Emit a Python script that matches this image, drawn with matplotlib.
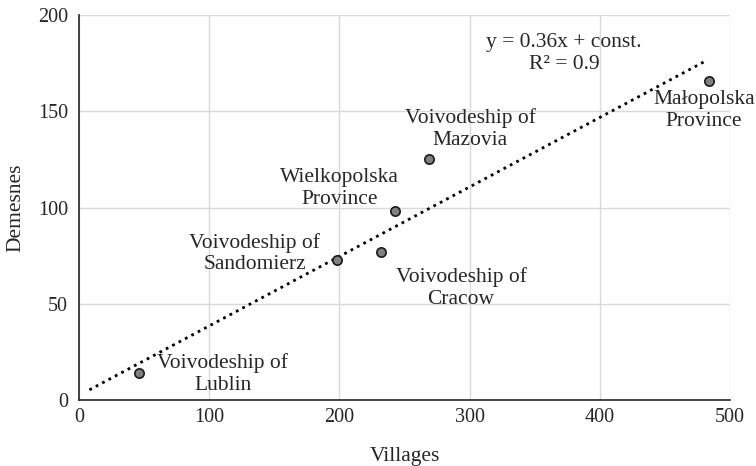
import matplotlib
matplotlib.use("Agg")
import matplotlib.pyplot as plt
import numpy as np

plt.rcParams['font.family'] = ['Liberation Serif', 'DejaVu Serif']

names = ["Voivodeship of\nLublin", "Voivodeship of\nSandomierz", "Voivodeship of\nCracow",
         "Wielkopolska\nProvince", "Voivodeship of\nMazovia", "Małopolska\nProvince"]
villages = [46, 198, 232, 243, 269, 484]
demesnes = [14, 73, 77, 98, 125, 166]
label_offsets = [(84, -1), (-82, 6), (80, -36), (-56, 23), (41, 30), (-5, -30)]
xticks = [0, 100, 200, 300, 400, 500]
yticks = [0, 50, 100, 150, 200]
trend_slope = 0.361
trend_intercept = 2.4
trend_range = [8, 482]

fig = plt.figure(figsize=(7.56, 4.66), dpi=100)
ax = fig.add_axes([0.1045, 0.1416, 0.861, 0.826])

ax.set_xlim(0, 500)
ax.set_ylim(0, 200)
ax.set_xticks(xticks)
ax.set_yticks(yticks)
ax.grid(True, color='#d9d9d9', linewidth=1.0)
ax.set_axisbelow(True)
for s in ['top', 'right']:
    ax.spines[s].set_visible(False)
for s in ['left', 'bottom']:
    ax.spines[s].set_color('#262626')
    ax.spines[s].set_linewidth(1.2)
ax.tick_params(length=0, labelsize=14.5, colors='#262626')
ax.tick_params(axis='y', pad=8)
ax.tick_params(axis='x', pad=6)

# trendline
tx = np.array(trend_range, dtype=float)
ax.plot(tx, trend_slope * tx + trend_intercept, linestyle=(0, (1, 1.6)), color='black',
        linewidth=2, zorder=2)

ax.scatter(villages, demesnes, s=45, facecolor='#808080', edgecolor='#1a1a1a', linewidth=1.2, zorder=3)

for x, y, n, off in zip(villages, demesnes, names, label_offsets):
    ax.annotate(n, (x, y), xytext=off, textcoords='offset pixels', ha='center', va='center',
                fontsize=15.5, color='#262626', linespacing=1.2)

ax.text(0.745, 0.9, "y = 0.36x + const.\nR² = 0.9", transform=ax.transAxes, ha='center', va='center',
        fontsize=15.5, color='#262626', linespacing=1.2)

ax.set_xlabel("Villages", fontsize=15.5, color='#262626', labelpad=14)
ax.set_ylabel("Demesnes", fontsize=15.5, color='#262626')
ax.yaxis.set_label_coords(-0.083, 0.5)

fig.savefig("out.png", dpi=100)
